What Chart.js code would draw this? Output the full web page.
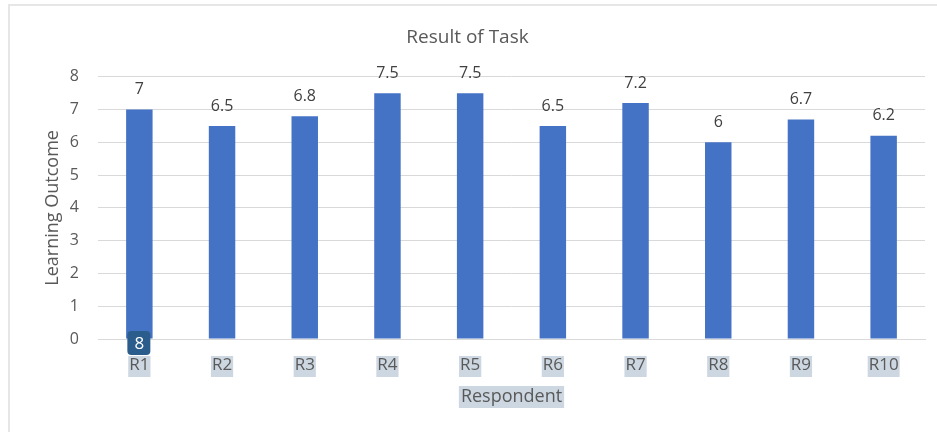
<!DOCTYPE html>
<html>
<head>
<meta charset="utf-8">
<script src="https://cdn.jsdelivr.net/npm/chart.js@4.4.0/dist/chart.umd.min.js"></script>
<style>
  html, body { margin: 0; padding: 0; background: #fff; }
  #wrap { width: 937px; height: 432px; position: relative; }
</style>
</head>
<body>
<div id="wrap"><canvas id="myChart" width="937" height="432"></canvas></div>
<script>
// data
var respondents = ['R1', 'R2', 'R3', 'R4', 'R5', 'R6', 'R7', 'R8', 'R9', 'R10'];
var scores = [7, 6.5, 6.8, 7.5, 7.5, 6.5, 7.2, 6, 6.7, 6.2];
var yTicks = [0, 1, 2, 3, 4, 5, 6, 7, 8];

var fontFam = '"Open Sans", "Noto Sans", sans-serif';
var grey = '#595959';
var hilite = '#cdd7e1';

// frame, label highlights, value labels and the little "8" badge
var extras = {
    id: 'extras',
    beforeDraw: function (chart) {
        var ctx = chart.ctx;
        ctx.save();
        ctx.fillStyle = '#ffffff';
        ctx.fillRect(0, 0, chart.width, chart.height);
        ctx.strokeStyle = '#e6e6e6';
        ctx.lineWidth = 2;
        ctx.beginPath();
        ctx.moveTo(9, chart.height);
        ctx.lineTo(9, 5);
        ctx.lineTo(chart.width, 5);
        ctx.stroke();

        // highlight behind the category labels
        var x = chart.scales.x;
        ctx.font = '17px ' + fontFam;
        ctx.fillStyle = hilite;
        respondents.forEach(function (r, i) {
            var w = ctx.measureText(r).width + 2;
            var cx = x.getPixelForValue(i);
            ctx.fillRect(cx - w / 2, 356, w, 21);
        });
        // highlight behind the axis title
        ctx.font = '18px ' + fontFam;
        var t = 'Respondent';
        var tw = ctx.measureText(t).width + 4;
        var mid = (chart.chartArea.left + chart.chartArea.right) / 2;
        ctx.fillRect(mid - tw / 2, 386, tw, 22);
        ctx.restore();
    },
    afterDatasetsDraw: function (chart) {
        var ctx = chart.ctx;
        var meta = chart.getDatasetMeta(0);
        ctx.save();
        ctx.font = '16px ' + fontFam;
        ctx.fillStyle = '#404040';
        ctx.textAlign = 'center';
        ctx.textBaseline = 'middle';
        meta.data.forEach(function (bar, i) {
            ctx.fillText(String(scores[i]), bar.x, bar.y - 20);
        });

        // badge sitting on the first bar
        var bx = chart.scales.x.getPixelForValue(0);
        var by = chart.scales.y.getPixelForValue(0) + 4;
        ctx.fillStyle = '#2b5d8c';
        ctx.beginPath();
        ctx.roundRect(bx - 12, by - 12, 23, 24, 4);
        ctx.fill();
        ctx.fillStyle = '#ffffff';
        ctx.font = '17px ' + fontFam;
        ctx.fillText('8', bx, by + 1);
        ctx.restore();
    }
};

var config = {
    type: 'bar',
    data: {
        labels: respondents,
        datasets: [{
            label: 'Learning Outcome',
            data: scores,
            backgroundColor: '#4472c4',
            borderWidth: 0,
            categoryPercentage: 1,
            barPercentage: 0.32
        }]
    },
    options: {
        responsive: false,
        animation: false,
        layout: { padding: { left: 10, right: 12, top: 0, bottom: 0 } },
        plugins: {
            legend: { display: false },
            tooltip: { enabled: false },
            title: {
                display: true,
                text: 'Result of Task',
                color: grey,
                font: { family: fontFam, size: 19, weight: 'normal' },
                padding: { top: 26, bottom: 28 }
            }
        },
        scales: {
            x: {
                grid: { display: false, drawTicks: false },
                border: { display: true, color: '#d9d9d9', width: 1 },
                ticks: {
                    color: grey,
                    font: { family: fontFam, size: 17 },
                    padding: 16,
                    maxRotation: 0
                },
                title: {
                    display: true,
                    text: 'Respondent',
                    color: grey,
                    font: { family: fontFam, size: 18 },
                    padding: { top: 0, bottom: 24 }
                },
                afterFit: function (scale) { scale.height = 93; }
            },
            y: {
                min: 0,
                max: 8,
                afterBuildTicks: function (scale) {
                    scale.ticks = yTicks.map(function (v) { return { value: v }; });
                },
                grid: { color: '#d9d9d9', drawTicks: false },
                border: { display: false },
                ticks: {
                    color: grey,
                    font: { family: fontFam, size: 16 },
                    padding: 19
                },
                title: {
                    display: true,
                    text: 'Learning Outcome',
                    color: grey,
                    font: { family: fontFam, size: 18 },
                    padding: { top: 32 }
                },
                afterFit: function (scale) { scale.width = 88; }
            }
        }
    },
    plugins: [extras]
};

var ctx = document.getElementById('myChart').getContext('2d');
var myChart = new Chart(ctx, config);
</script>
</body>
</html>
